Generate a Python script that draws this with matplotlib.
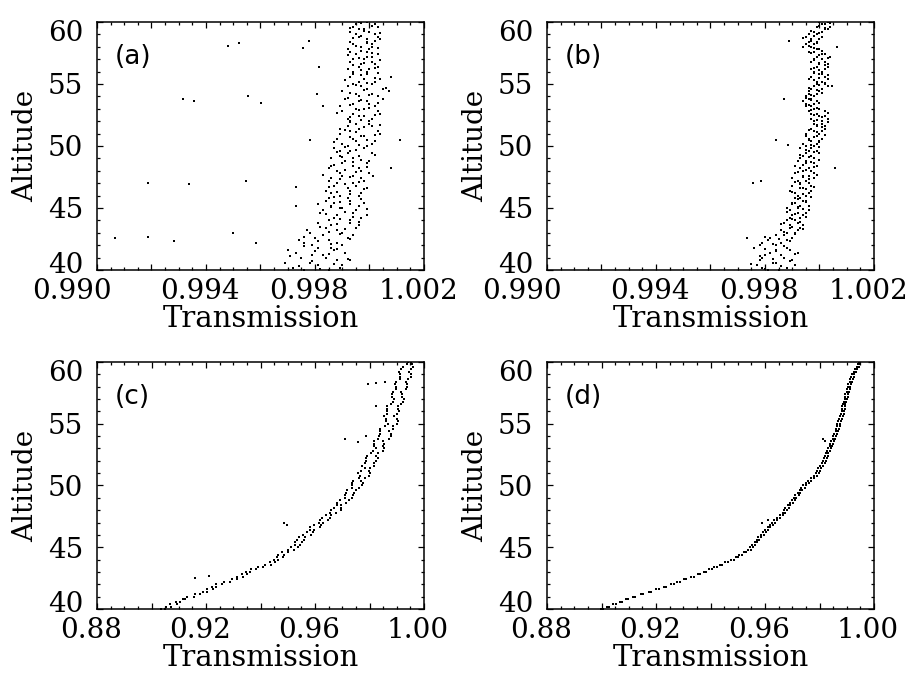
import matplotlib
matplotlib.use('Agg')
import matplotlib.pyplot as plt
import matplotlib.transforms as mtransforms

# altitude grids shared by the panels (km)
alt = [40.0, 40.2, 40.4, 40.6, 40.8, 41.0, 41.2, 41.4, 41.6, 41.8,
       42.0, 42.2, 42.4, 42.6, 42.8, 43.0, 43.2, 43.4, 43.6, 43.8,
       44.0, 44.2, 44.4, 44.6, 44.8, 45.0, 45.2, 45.4, 45.6, 45.8,
       46.0, 46.2, 46.4, 46.6, 46.8, 47.0, 47.2, 47.4, 47.6, 47.8,
       48.0, 48.2, 48.4, 48.6, 48.8, 49.0, 49.2, 49.4, 49.6, 49.8,
       50.0, 50.2, 50.4, 50.6, 50.8, 51.0, 51.2, 51.4, 51.6, 51.8,
       52.0, 52.2, 52.4, 52.6, 52.8, 53.0, 53.2, 53.4, 53.6, 53.8,
       54.0, 54.2, 54.4, 54.6, 54.8, 55.0, 55.2, 55.4, 55.6, 55.8,
       56.0, 56.2, 56.4, 56.6, 56.8, 57.0, 57.2, 57.4, 57.6, 57.8,
       58.0, 58.2, 58.4, 58.6, 58.8, 59.0, 59.2, 59.4, 59.6, 59.8,
       60.0]
alt_mid = [40.1, 40.3, 40.5, 40.7, 40.9, 41.1, 41.3, 41.5, 41.7, 41.9,
           42.1, 42.3, 42.5, 42.7, 42.9, 43.1, 43.3, 43.5, 43.7, 43.9,
           44.1, 44.3, 44.5, 44.7, 44.9, 45.1, 45.3, 45.5, 45.7, 45.9,
           46.1, 46.3, 46.5, 46.7, 46.9, 47.1, 47.3, 47.5, 47.7, 47.9,
           48.1, 48.3, 48.5, 48.7, 48.9, 49.1, 49.3, 49.5, 49.7, 49.9,
           50.1, 50.3, 50.5, 50.7, 50.9, 51.1, 51.3, 51.5, 51.7, 51.9,
           52.1, 52.3, 52.5, 52.7, 52.9, 53.1, 53.3, 53.5, 53.7, 53.9,
           54.1, 54.3, 54.5, 54.7, 54.9, 55.1, 55.3, 55.5, 55.7, 55.9,
           56.1, 56.3, 56.5, 56.7, 56.9, 57.1, 57.3, 57.5, 57.7, 57.9,
           58.1, 58.3, 58.5, 58.7, 58.9, 59.1, 59.3, 59.5, 59.7, 59.9]

# (a)
trans_a1 = [0.9985, 0.9972, 0.9990, 0.9978, 0.9988, 0.9975, 0.9983, 0.9991, 0.9970, 0.9986,
            0.9979, 0.9988, 0.9974, 0.9992, 0.9983, 0.9990, 0.9977, 0.9995, 0.9986, 0.9993,
            0.9985, 0.9997, 0.9988, 0.9982, 0.9995, 0.9990, 0.9986, 0.9998, 0.9984, 0.9992,
            0.9996, 0.9986, 0.9993, 0.9999, 0.9987, 0.9994, 0.9985, 0.9997, 0.9990, 1.0000,
            0.9988, 0.9996, 0.9986, 0.9999, 0.9991, 0.9994, 0.9989, 1.0001, 0.9993, 0.9987,
            0.9999, 0.9990, 1.0002, 0.9994, 0.9998, 0.9989, 1.0003, 0.9996, 0.9992, 1.0000,
            0.9993, 1.0001, 0.9996, 1.0004, 0.9990, 0.9998, 1.0002, 0.9994, 0.9999, 0.9991,
            1.0003, 0.9995, 1.0007, 0.9999, 0.9992, 1.0001, 0.9996, 1.0004, 0.9993, 0.9999,
            0.9994, 1.0000, 0.9996, 1.0002, 0.9993, 0.9998, 1.0001, 0.9995, 0.9999, 0.9992,
            1.0001, 0.9994, 0.9999, 1.0004, 0.9996, 1.0002, 0.9993, 0.9998, 1.0003, 0.9995,
            0.9999]
trans_a2 = [0.9976, 0.9989, 0.9981, 0.9969, 0.9993, 0.9984, 0.9979, 0.9973, 0.9987, 0.9981,
            0.9990, 0.9976, 0.9985, 0.9980, 0.9994, 0.9978, 0.9988, 0.9984, 0.9996, 0.9981,
            0.9993, 0.9987, 0.9999, 0.9994, 0.9983, 0.9989, 0.9996, 0.9987, 0.9993, 0.9985,
            0.9989, 0.9997, 0.9984, 0.9992, 0.9995, 0.9988, 0.9998, 0.9986, 0.9994, 0.9989,
            0.9997, 0.9985, 0.9994, 0.9990, 1.0000, 0.9986, 0.9996, 0.9992, 0.9989, 0.9998,
            0.9992, 1.0001, 0.9995, 0.9988, 0.9997, 1.0004, 0.9993, 0.9989, 1.0001, 0.9995,
            1.0000, 0.9992, 0.9998, 0.9994, 1.0003, 0.9995, 0.9989, 1.0000, 0.9996, 1.0005,
            0.9996, 1.0001, 0.9990, 1.0005, 0.9997, 0.9994, 1.0002, 0.9998, 1.0008, 0.9994,
            0.9999, 0.9992, 1.0003, 0.9997, 1.0001, 0.9994, 0.9999, 1.0003, 0.9993, 1.0000,
            0.9997, 1.0001, 0.9993, 0.9999, 1.0003, 0.9995, 1.0000, 0.9996, 0.9994, 1.0002,
            0.9996]
trans_a3 = [0.9982, 0.9974, 0.9987, 0.9979, 0.9992, 0.9971, 0.9985, 0.9980, 0.9988, 0.9976,
            0.9986, 0.9981, 0.9993, 0.9976, 0.9989, 0.9985, 0.9991, 0.9982, 0.9988, 0.9996,
            0.9989, 0.9994, 0.9984, 0.9991, 0.9999, 0.9986, 0.9993, 0.9989, 0.9997, 0.9987,
            0.9993, 0.9988, 0.9998, 0.9985, 0.9991, 0.9996, 0.9989, 0.9993, 0.9983, 0.9995,
            0.9991, 0.9999, 0.9987, 0.9994, 0.9997, 0.9990, 1.0002, 0.9988, 0.9995, 0.9991,
            0.9996, 0.9987, 0.9999, 0.9993, 1.0002, 0.9995, 0.9991, 0.9998, 1.0004, 0.9993,
            0.9997, 0.9993, 1.0002, 0.9988, 0.9996, 1.0000, 0.9993, 1.0003, 0.9997, 0.9992,
            1.0000, 0.9993, 0.9998, 1.0006, 0.9995, 0.9999, 0.9991, 1.0002, 0.9997, 1.0003,
            0.9997, 1.0002, 0.9994, 0.9998, 1.0004, 0.9996, 0.9992, 1.0001, 0.9997, 1.0003,
            0.9995, 0.9999, 1.0002, 0.9994, 0.9997, 1.0004, 0.9998, 0.9993, 1.0001, 0.9997]
out_a_x = [0.99066, 0.99187, 0.99283, 0.99187, 0.99338, 0.99547, 0.99499, 0.99583, 0.99316,
           0.99356, 0.99554, 0.99602, 0.99481, 0.99521, 0.99756, 0.99778, 0.99815, 0.99807,
           0.99829, 0.99782, 0.99730, 0.99730, 0.99811, 1.00112, 1.00079, 1.00013]
out_a_y = [42.6, 42.7, 42.3, 47.0, 46.9, 47.2, 43.0, 42.2, 53.8,
           53.6, 54.0, 53.5, 58.1, 58.3, 57.9, 58.5, 56.4, 54.2,
           53.2, 50.5, 46.7, 45.2, 45.3, 50.5, 48.2, 47.6]

# (b)
trans_b1 = [0.9981, 0.9988, 0.9977, 0.9984, 0.9990, 0.9979, 0.9986, 0.9982, 0.9989, 0.9976,
            0.9984, 0.9979, 0.9988, 0.9982, 0.9987, 0.9991, 0.9986, 0.9993, 0.9989, 0.9992,
            0.9988, 0.9993, 0.9990, 0.9995, 0.9989, 0.9992, 0.9996, 0.9990, 0.9994, 0.9991,
            0.9995, 0.9991, 0.9997, 0.9993, 0.9990, 0.9996, 0.9992, 0.9998, 0.9994, 0.9991,
            0.9997, 0.9993, 0.9999, 0.9995, 0.9992, 0.9998, 0.9994, 1.0000, 0.9996, 0.9993,
            0.9998, 0.9994, 1.0000, 0.9996, 0.9999, 0.9995, 1.0001, 0.9997, 1.0002, 0.9998,
            1.0001, 0.9997, 1.0002, 0.9999, 0.9996, 1.0000, 0.9995, 0.9998, 0.9994, 0.9997,
            0.9995, 0.9999, 0.9996, 1.0001, 0.9998, 1.0002, 0.9999, 1.0003, 0.9997, 1.0001,
            0.9998, 1.0002, 0.9999, 1.0003, 0.9997, 1.0001, 0.9999, 1.0002, 0.9996, 0.9999,
            0.9994, 0.9998, 0.9996, 1.0000, 0.9995, 0.9999, 1.0001, 1.0003, 0.9999, 1.0002,
            1.0000]
trans_b2 = [0.9985, 0.9979, 0.9991, 0.9983, 0.9978, 0.9987, 0.9980, 0.9992, 0.9984, 0.9988,
            0.9978, 0.9986, 0.9981, 0.9990, 0.9984, 0.9988, 0.9992, 0.9989, 0.9994, 0.9987,
            0.9991, 0.9989, 0.9994, 0.9992, 0.9996, 0.9988, 0.9993, 0.9991, 0.9995, 0.9993,
            0.9992, 0.9996, 0.9989, 0.9994, 0.9997, 0.9993, 0.9995, 0.9990, 0.9996, 0.9998,
            0.9994, 0.9996, 0.9991, 0.9998, 0.9995, 0.9993, 0.9997, 0.9995, 0.9999, 0.9997,
            0.9995, 0.9999, 0.9997, 1.0001, 0.9995, 1.0000, 0.9998, 1.0002, 0.9999, 1.0001,
            0.9998, 1.0003, 1.0000, 0.9997, 1.0002, 0.9998, 0.9997, 0.9995, 0.9999, 0.9996,
            0.9998, 0.9996, 1.0000, 0.9997, 1.0003, 0.9999, 1.0001, 0.9996, 1.0002, 1.0000,
            1.0001, 0.9997, 1.0003, 1.0000, 1.0002, 0.9998, 1.0004, 1.0001, 0.9998, 1.0000,
            0.9997, 0.9995, 0.9999, 0.9997, 1.0001, 0.9996, 0.9998, 1.0002, 1.0004, 1.0001,
            1.0003]
trans_b3 = [0.9980, 0.9986, 0.9975, 0.9989, 0.9983, 0.9978, 0.9991, 0.9984, 0.9980, 0.9987,
            0.9983, 0.9989, 0.9985, 0.9980, 0.9991, 0.9987, 0.9994, 0.9990, 0.9986, 0.9993,
            0.9990, 0.9995, 0.9991, 0.9988, 0.9994, 0.9992, 0.9990, 0.9995, 0.9992, 0.9997,
            0.9994, 0.9990, 0.9995, 0.9998, 0.9993, 0.9991, 0.9996, 0.9994, 0.9999, 0.9992,
            0.9995, 0.9998, 0.9994, 0.9997, 1.0000, 0.9996, 0.9993, 0.9998, 0.9995, 1.0000,
            0.9997, 1.0000, 0.9996, 0.9998, 1.0002, 0.9999, 0.9996, 1.0001, 0.9999, 1.0003,
            0.9999, 1.0001, 0.9998, 1.0003, 0.9997, 0.9999, 0.9996, 1.0000, 0.9997, 0.9995,
            0.9997, 1.0001, 0.9999, 0.9996, 1.0000, 1.0002, 0.9998, 1.0000, 1.0003, 0.9998,
            1.0000, 0.9998, 1.0002, 1.0000, 0.9998, 1.0003, 1.0000, 0.9997, 1.0001, 0.9998,
            0.9996, 0.9999, 0.9997, 0.9994, 0.9998, 1.0000, 0.9997, 1.0002, 1.0000, 1.0004]
out_b_x = [0.99756, 0.99785, 0.99840, 0.99884, 0.99870, 0.99888, 1.00057, 1.00064, 1.00046, 0.99734]
out_b_y = [47.0, 47.2, 50.5, 50.1, 53.8, 58.5, 48.2, 58.0, 54.8, 42.6]

# (c)
trans_c1 = [0.9048, 0.9055, 0.9092, 0.9091, 0.9124, 0.9132, 0.9177, 0.9188, 0.9225, 0.9223,
            0.9238, 0.9289, 0.9296, 0.9336, 0.9332, 0.9363, 0.9365, 0.9410, 0.9417, 0.9454,
            0.9449, 0.9483, 0.9466, 0.9500, 0.9501, 0.9537, 0.9527, 0.9551, 0.9534, 0.9564,
            0.9585, 0.9570, 0.9596, 0.9583, 0.9622, 0.9616, 0.9648, 0.9627, 0.9657, 0.9656,
            0.9694, 0.9668, 0.9697, 0.9680, 0.9724, 0.9710, 0.9741, 0.9714, 0.9749, 0.9734,
            0.9772, 0.9737, 0.9768, 0.9760, 0.9799, 0.9759, 0.9798, 0.9784, 0.9815, 0.9785,
            0.9823, 0.9787, 0.9824, 0.9806, 0.9851, 0.9823, 0.9850, 0.9815, 0.9849, 0.9831,
            0.9878, 0.9840, 0.9872, 0.9840, 0.9887, 0.9867, 0.9903, 0.9861, 0.9889, 0.9864,
            0.9908, 0.9866, 0.9904, 0.9878, 0.9924, 0.9891, 0.9921, 0.9884, 0.9917, 0.9899,
            0.9936, 0.9892, 0.9935, 0.9911, 0.9951, 0.9912, 0.9946, 0.9917, 0.9959, 0.9938,
            0.9952]
trans_c2 = [0.9034, 0.9070, 0.9069, 0.9105, 0.9117, 0.9156, 0.9161, 0.9203, 0.9205, 0.9238,
            0.9257, 0.9267, 0.9315, 0.9314, 0.9351, 0.9346, 0.9384, 0.9391, 0.9437, 0.9435,
            0.9465, 0.9459, 0.9486, 0.9480, 0.9524, 0.9513, 0.9546, 0.9528, 0.9558, 0.9542,
            0.9557, 0.9594, 0.9583, 0.9619, 0.9595, 0.9629, 0.9619, 0.9656, 0.9641, 0.9677,
            0.9660, 0.9697, 0.9681, 0.9713, 0.9692, 0.9735, 0.9710, 0.9742, 0.9719, 0.9763,
            0.9734, 0.9775, 0.9738, 0.9785, 0.9766, 0.9803, 0.9767, 0.9801, 0.9771, 0.9816,
            0.9788, 0.9832, 0.9791, 0.9831, 0.9812, 0.9855, 0.9815, 0.9854, 0.9818, 0.9871,
            0.9834, 0.9878, 0.9837, 0.9888, 0.9858, 0.9901, 0.9862, 0.9900, 0.9855, 0.9900,
            0.9865, 0.9905, 0.9865, 0.9917, 0.9887, 0.9925, 0.9882, 0.9920, 0.9885, 0.9935,
            0.9896, 0.9938, 0.9896, 0.9940, 0.9912, 0.9952, 0.9909, 0.9953, 0.9924, 0.9956,
            0.9940]
out_c_x = [0.9160, 0.9211, 0.9486, 0.9497, 0.9710, 0.9787, 0.9758, 0.9824, 0.9794, 0.9824, 0.9857]
out_c_y = [42.5, 42.7, 47.0, 46.8, 53.8, 54.0, 53.5, 56.4, 58.2, 58.3, 58.4]

# (d)
trans_d1 = [0.9004, 0.9021, 0.9054, 0.9067, 0.9098, 0.9114, 0.9153, 0.9174, 0.9211, 0.9228,
            0.9265, 0.9278, 0.9311, 0.9328, 0.9363, 0.9377, 0.9405, 0.9413, 0.9442, 0.9455,
            0.9486, 0.9492, 0.9517, 0.9522, 0.9547, 0.9545, 0.9565, 0.9563, 0.9578, 0.9576,
            0.9595, 0.9591, 0.9610, 0.9611, 0.9630, 0.9625, 0.9643, 0.9644, 0.9666, 0.9666,
            0.9670, 0.9688, 0.9684, 0.9702, 0.9698, 0.9714, 0.9710, 0.9729, 0.9727, 0.9746,
            0.9739, 0.9760, 0.9757, 0.9779, 0.9780, 0.9797, 0.9791, 0.9805, 0.9801, 0.9819,
            0.9814, 0.9828, 0.9821, 0.9833, 0.9827, 0.9842, 0.9838, 0.9850, 0.9844, 0.9856,
            0.9851, 0.9863, 0.9859, 0.9872, 0.9865, 0.9877, 0.9869, 0.9881, 0.9877, 0.9889,
            0.9881, 0.9892, 0.9883, 0.9894, 0.9891, 0.9902, 0.9893, 0.9905, 0.9900, 0.9911,
            0.9903, 0.9915, 0.9911, 0.9923, 0.9917, 0.9928, 0.9925, 0.9939, 0.9937, 0.9947,
            0.9950]
trans_d2 = [0.8997, 0.9029, 0.9044, 0.9075, 0.9090, 0.9124, 0.9146, 0.9182, 0.9199, 0.9235,
            0.9256, 0.9287, 0.9303, 0.9338, 0.9354, 0.9385, 0.9394, 0.9424, 0.9435, 0.9463,
            0.9477, 0.9501, 0.9506, 0.9532, 0.9539, 0.9556, 0.9554, 0.9571, 0.9571, 0.9586,
            0.9586, 0.9604, 0.9601, 0.9619, 0.9619, 0.9637, 0.9634, 0.9654, 0.9655, 0.9675,
            0.9679, 0.9675, 0.9692, 0.9692, 0.9711, 0.9705, 0.9723, 0.9721, 0.9736, 0.9732,
            0.9750, 0.9749, 0.9769, 0.9768, 0.9789, 0.9786, 0.9801, 0.9796, 0.9812, 0.9808,
            0.9823, 0.9818, 0.9832, 0.9825, 0.9838, 0.9831, 0.9846, 0.9840, 0.9854, 0.9849,
            0.9860, 0.9854, 0.9868, 0.9862, 0.9874, 0.9866, 0.9879, 0.9873, 0.9887, 0.9879,
            0.9890, 0.9883, 0.9895, 0.9886, 0.9898, 0.9893, 0.9903, 0.9895, 0.9907, 0.9902,
            0.9912, 0.9906, 0.9919, 0.9913, 0.9927, 0.9921, 0.9935, 0.9930, 0.9944, 0.9942,
            0.9946]
out_d_x = [0.9589, 0.9611, 0.9813, 0.9820]
out_d_y = [47.0, 47.2, 53.8, 53.6]

xticks_top = [0.990, 0.992, 0.994, 0.996, 0.998, 1.000, 1.002]
xlabels_top = ['0.990', '', '0.994', '', '0.998', '', '1.002']
xticks_bot = [0.88, 0.90, 0.92, 0.94, 0.96, 0.98, 1.00]
xlabels_bot = ['0.88', '', '0.92', '', '0.96', '', '1.00']
yticks = [40, 45, 50, 55, 60]
panel_names = ['(a)', '(b)', '(c)', '(d)']

fig = plt.figure(figsize=(9.16, 6.74), dpi=100)
serif = 'DejaVu Serif'
fs = 20

rects = [[97/916, 404/674, 327/916, 248/674],
         [547/916, 404/674, 327/916, 248/674],
         [97/916, 65/674, 327/916, 247/674],
         [547/916, 65/674, 327/916, 247/674]]
data = [([trans_a1, trans_a2, trans_a3, out_a_x], [alt, alt, alt_mid, out_a_y]),
        ([trans_b1, trans_b2, trans_b3, out_b_x], [alt, alt, alt_mid, out_b_y]),
        ([trans_c1, trans_c2, out_c_x], [alt, alt, out_c_y]),
        ([trans_d1, trans_d2, out_d_x], [alt, alt, out_d_y])]

for i in range(4):
    ax = fig.add_axes(rects[i])
    xs, ys = data[i]
    for x, y in zip(xs, ys):
        ax.plot(x, y, 's', color='black', markersize=1.9, markeredgewidth=0)
    if i < 2:
        ax.set_xlim(0.990, 1.002)
        ax.set_xticks(xticks_top)
        ax.set_xticklabels(xlabels_top)
        ax.xaxis.set_minor_locator(plt.MultipleLocator(0.0005))
    else:
        ax.set_xlim(0.88, 1.00)
        ax.set_xticks(xticks_bot)
        ax.set_xticklabels(xlabels_bot)
        ax.xaxis.set_minor_locator(plt.MultipleLocator(0.005))
    ax.set_ylim(40, 60)
    ax.set_yticks(yticks)
    ax.yaxis.set_minor_locator(plt.MultipleLocator(1))
    for s in ax.spines.values():
        s.set_linewidth(1.1)
    ax.tick_params(which='both', direction='in', top=True, right=True, width=0.9)
    ax.tick_params(which='major', length=4.5)
    ax.tick_params(which='minor', length=2.2)
    ax.tick_params(axis='x', pad=6, labelsize=fs)
    ax.tick_params(axis='y', pad=10, labelsize=fs)
    for lab in ax.get_xticklabels() + ax.get_yticklabels():
        lab.set_family(serif)
    ax.set_xlabel('Transmission', family=serif, fontsize=21, labelpad=0)
    ax.set_ylabel('Altitude', family=serif, fontsize=20, labelpad=6)
    ax.text(0.055, 0.86, panel_names[i], transform=ax.transAxes, fontsize=19,
            family='DejaVu Sans', va='center', ha='left')

    # nudge tick labels like the original
    xt = ax.xaxis.get_major_ticks()
    for k, t in enumerate(xt):
        dx = -25 if (k == 0 and i < 2) else -6
        off = mtransforms.ScaledTranslation(dx / 100, 0, fig.dpi_scale_trans)
        t.label1.set_transform(t.label1.get_transform() + off)
    yt = ax.yaxis.get_major_ticks()
    off = mtransforms.ScaledTranslation(0, -9 / 100, fig.dpi_scale_trans)
    yt[-1].label1.set_transform(yt[-1].label1.get_transform() + off)
    off = mtransforms.ScaledTranslation(0, 7 / 100, fig.dpi_scale_trans)
    yt[0].label1.set_transform(yt[0].label1.get_transform() + off)

fig.savefig('out.png', dpi=100)
